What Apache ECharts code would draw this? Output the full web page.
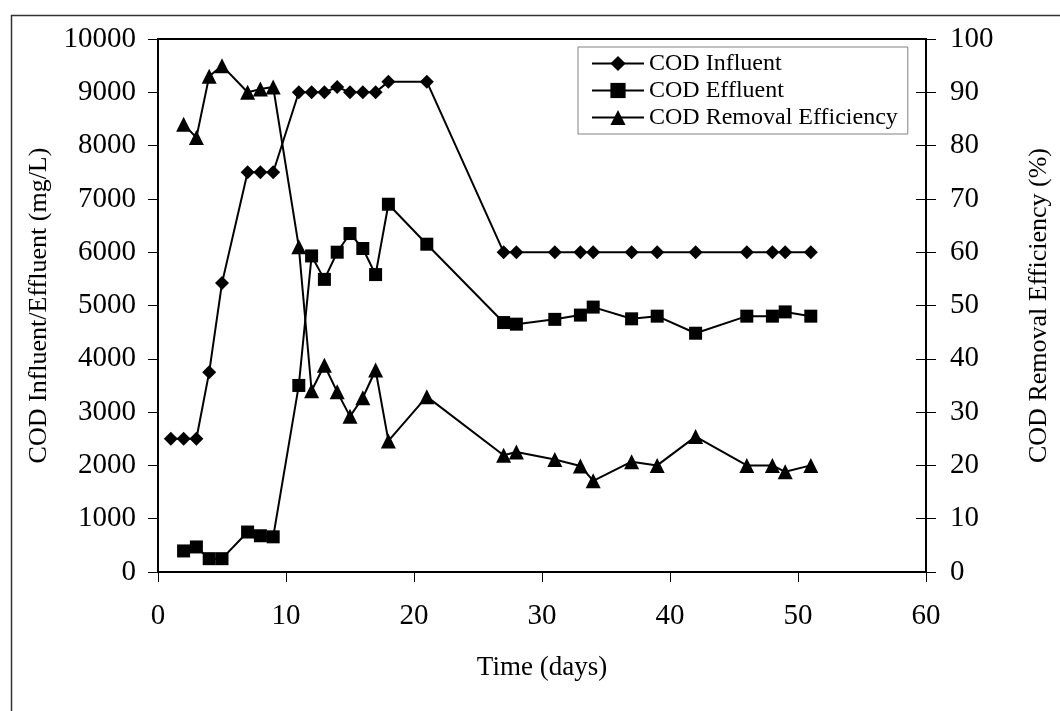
<!DOCTYPE html>
<html>
<head>
<meta charset="utf-8">
<script src="https://cdn.jsdelivr.net/npm/echarts@6/dist/echarts.min.js"></script>
<style>
html,body{margin:0;padding:0;background:#fff;}
#chart{width:1060px;height:711px;}
</style>
</head>
<body>
<div id="chart"></div>
<script>
const influentDays = [1,2,3,4,5,7,8,9,11,12,13,14,15,16,17,18,21,27,28,31,33,34,37,39,42,46,48,49,51];
const influent = [2500,2500,2500,3750,5420,7500,7500,7500,9000,9000,9000,9100,9000,9000,9000,9200,9200,6000,6000,6000,6000,6000,6000,6000,6000,6000,6000,6000,6000];
const effluentDays = [2,3,4,5,7,8,9,11,12,13,14,15,16,17,18,21,27,28,31,33,34,37,39,42,46,48,49,51];
const effluent = [395,470,250,250,750,680,660,3500,5930,5490,6000,6350,6070,5580,6900,6150,4680,4650,4740,4820,4970,4750,4800,4480,4800,4800,4880,4800];
const efficiency = [84,81.5,93,95,90,90.6,91,61,34,38.8,33.8,29.2,32.7,37.9,24.6,32.9,21.9,22.5,21.1,19.9,17.1,20.7,20,25.4,20,20,18.8,20];
const seriesNames = ['COD Influent','COD Effluent','COD Removal Efficiency'];
const xTitle = 'Time (days)';
const yLeftTitle = 'COD Influent/Effluent (mg/L)';
const yRightTitle = 'COD Removal Efficiency (%)';

const FONT = 'Liberation Serif';
const pair = (xs, ys) => xs.map((x, i) => [x, ys[i]]);
const plain = v => String(v);

const chart = echarts.init(document.getElementById('chart'), null, {renderer: 'canvas'});
const lineStyle = {color: '#000', width: 2};
const tickLabel = {color: '#000', fontFamily: FONT, fontSize: 29, formatter: plain};
chart.setOption({
  backgroundColor: '#fff',
  animation: false,
  graphic: [{
    type: 'rect', left: 9, top: 13, shape: {x: 0, y: 0, width: 1100, height: 800},
    style: {fill: 'none', stroke: '#333', lineWidth: 1.5}, silent: true, z: -10
  }],
  grid: {left: 158, top: 39, width: 770, height: 533, show: true, borderColor: '#000', borderWidth: 2, backgroundColor: 'transparent'},
  legend: {
    left: 578, top: 47, orient: 'vertical', selectedMode: false,
    itemWidth: 52, itemHeight: 19, itemGap: 0,
    padding: [3, 10, 3, 13],
    borderColor: '#808080', borderWidth: 1,
    backgroundColor: '#fff',
    lineStyle: {width: 2, color: '#000'},
    textStyle: {color: '#000', fontFamily: FONT, fontSize: 24, lineHeight: 27},
    data: seriesNames
  },
  xAxis: {
    type: 'value', min: 0, max: 60, interval: 10,
    name: xTitle, nameLocation: 'middle', nameGap: 82,
    nameTextStyle: {color: '#000', fontFamily: FONT, fontSize: 27},
    axisLine: {show: true, lineStyle: {color: '#000', width: 2}},
    axisTick: {show: true, length: 10, lineStyle: {color: '#000', width: 1}},
    axisLabel: Object.assign({margin: 30}, tickLabel),
    splitLine: {show: false}
  },
  yAxis: [{
    type: 'value', min: 0, max: 10000, interval: 1000, position: 'left',
    name: yLeftTitle, nameLocation: 'middle', nameGap: 105, nameRotate: 90,
    nameTextStyle: {color: '#000', fontFamily: FONT, fontSize: 26},
    axisLine: {show: true, lineStyle: {color: '#000', width: 2}},
    axisTick: {show: true, length: 10, lineStyle: {color: '#000', width: 1}},
    axisLabel: Object.assign({margin: 22}, tickLabel),
    splitLine: {show: false}
  }, {
    type: 'value', min: 0, max: 100, interval: 10, position: 'right',
    name: yRightTitle, nameLocation: 'middle', nameGap: 100, nameRotate: 90,
    nameTextStyle: {color: '#000', fontFamily: FONT, fontSize: 26},
    axisLine: {show: true, lineStyle: {color: '#000', width: 2}},
    axisTick: {show: true, length: 10, lineStyle: {color: '#000', width: 1}},
    axisLabel: Object.assign({margin: 24}, tickLabel),
    splitLine: {show: false}
  }, {
    type: 'value', min: 0, max: 100, interval: 10, position: 'right',
    axisLine: {show: false},
    axisTick: {show: true, inside: true, length: 10, lineStyle: {color: '#000', width: 1}},
    axisLabel: {show: false},
    splitLine: {show: false}
  }],
  series: [{
    name: seriesNames[0], type: 'line', yAxisIndex: 0,
    data: pair(influentDays, influent),
    symbol: 'diamond', symbolSize: 14,
    lineStyle: lineStyle, itemStyle: {color: '#000'}, z: 3
  }, {
    name: seriesNames[1], type: 'line', yAxisIndex: 0,
    data: pair(effluentDays, effluent),
    symbol: 'rect', symbolSize: 13,
    lineStyle: lineStyle, itemStyle: {color: '#000'}, z: 3
  }, {
    name: seriesNames[2], type: 'line', yAxisIndex: 1,
    data: pair(effluentDays, efficiency),
    symbol: 'triangle', symbolSize: 15,
    lineStyle: lineStyle, itemStyle: {color: '#000'}, z: 3
  }]
});
</script>
</body>
</html>
